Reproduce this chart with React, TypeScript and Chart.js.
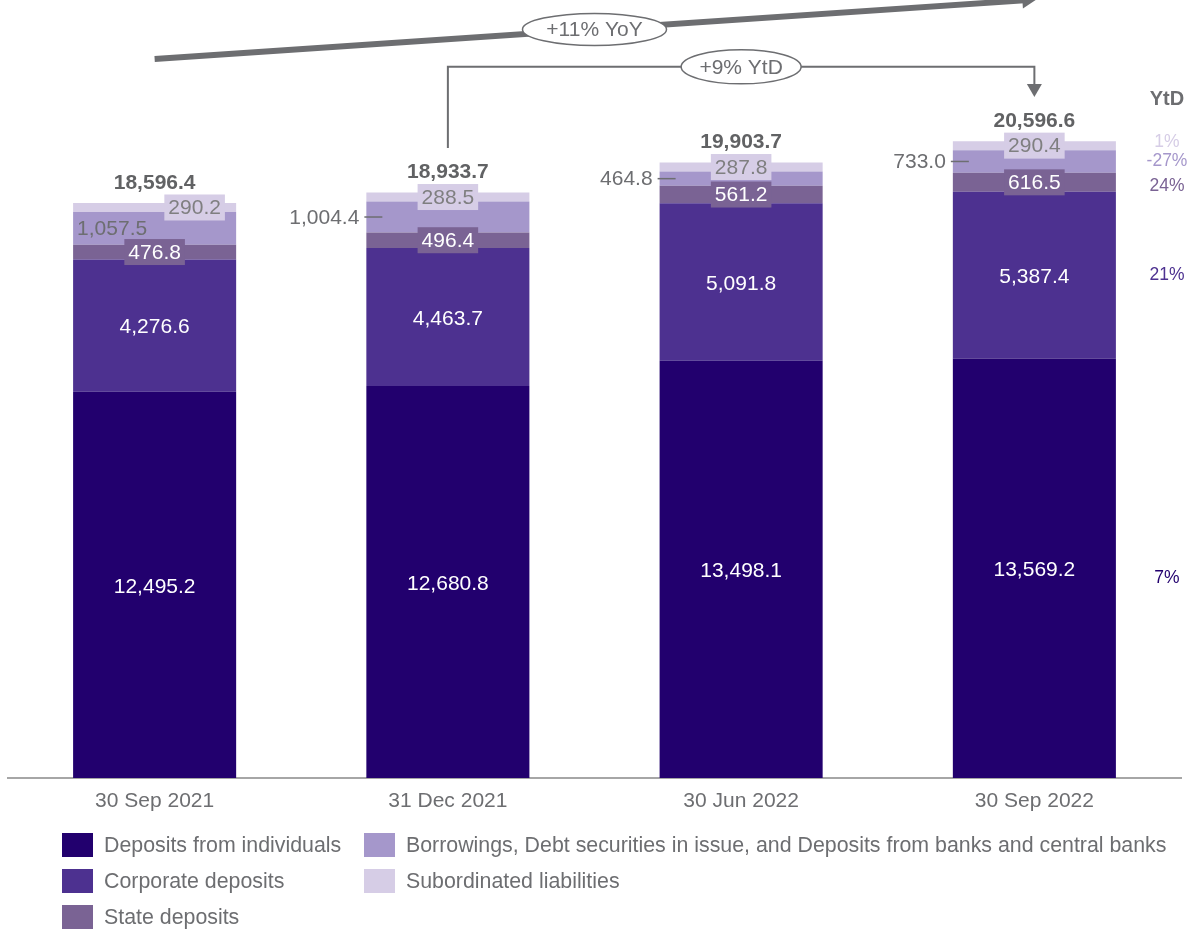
import React, { useEffect, useRef } from 'react';
import { Chart, registerables } from 'chart.js';

Chart.register(...registerables);

const FONT = '"Liberation Sans", Arial, Helvetica, sans-serif';
const GRAY = '#6d6e71';
const DARK_GRAY = '#616264';

// ---- Data ----
const categories = ['30 Sep 2021', '31 Dec 2021', '30 Jun 2022', '30 Sep 2022'];
const individuals = [12495.2, 12680.8, 13498.1, 13569.2];
const corporate = [4276.6, 4463.7, 5091.8, 5387.4];
const stateDeposits = [476.8, 496.4, 561.2, 616.5];
const borrowings = [1057.5, 1004.4, 464.8, 733.0];
const subordinated = [290.2, 288.5, 287.8, 290.4];
const totals = [18596.4, 18933.7, 19903.7, 20596.6];
const seriesNames = [
  'Deposits from individuals',
  'Corporate deposits',
  'State deposits',
  'Borrowings, Debt securities in issue, and Deposits from banks and central banks',
  'Subordinated liabilities',
];
const ytdChanges = ['7%', '21%', '24%', '-27%', '1%'];
const yoyLabel = '+11% YoY';
const ytdLabel = '+9% YtD';

const COLORS = ['#22006e', '#4d3190', '#7a6394', '#a597cb', '#d6cde6'];

const fmt = (v: number) =>
  v.toLocaleString('en-US', { minimumFractionDigits: 1, maximumFractionDigits: 1 });

function drawBoxLabel(ctx: CanvasRenderingContext2D, text: string, cx: number, cy: number, bg: string, fg: string) {
  const w = ctx.measureText(text).width;
  ctx.fillStyle = bg;
  ctx.fillRect(cx - w / 2 - 4, cy - 13, w + 8, 26);
  ctx.fillStyle = fg;
  ctx.textAlign = 'center';
  ctx.fillText(text, cx, cy + 1);
}

const labelPlugin = {
  id: 'segLabels',
  afterDatasetsDraw(chart: any) {
    const ctx: CanvasRenderingContext2D = chart.ctx;
    ctx.save();
    ctx.textBaseline = 'middle';
    ctx.font = `21px ${FONT}`;
    chart.data.datasets.forEach((ds: any, di: number) => {
      const meta = chart.getDatasetMeta(di);
      meta.data.forEach((el: any, i: number) => {
        const p = el.getProps(['x', 'y', 'base', 'width'], true);
        const mid = (p.y + p.base) / 2;
        const left = p.x - p.width / 2;
        const txt = fmt(ds.data[i]);
        if (di === 0 || di === 1) {
          ctx.fillStyle = '#ffffff';
          ctx.textAlign = 'center';
          ctx.fillText(txt, p.x, mid + 2);
        } else if (di === 2) {
          drawBoxLabel(ctx, txt, p.x, mid, COLORS[2], '#ffffff');
        } else if (di === 3) {
          if (i === 0) {
            ctx.fillStyle = GRAY;
            ctx.textAlign = 'left';
            ctx.fillText(txt, left + 4, mid + 1);
          } else {
            ctx.fillStyle = GRAY;
            ctx.textAlign = 'right';
            ctx.fillText(txt, left - 7, mid + 1);
            ctx.strokeStyle = GRAY;
            ctx.lineWidth = 1.5;
            ctx.beginPath();
            ctx.moveTo(left - 2, mid);
            ctx.lineTo(left + 16, mid);
            ctx.stroke();
          }
        } else if (di === 4) {
          const cx = i === 0 ? p.x + 40 : p.x;
          drawBoxLabel(ctx, txt, cx, mid, COLORS[4], '#7f7f80');
        }
      });
    });
    // totals
    const topMeta = chart.getDatasetMeta(chart.data.datasets.length - 1);
    ctx.font = `bold 21px ${FONT}`;
    ctx.fillStyle = DARK_GRAY;
    ctx.textAlign = 'center';
    topMeta.data.forEach((el: any, i: number) => {
      const p = el.getProps(['x', 'y'], true);
      ctx.fillText(fmt(totals[i]), p.x, p.y - 20);
    });
    ctx.restore();
  },
};

function ellipseLabel(ctx: CanvasRenderingContext2D, cx: number, cy: number, rx: number, ry: number, text: string) {
  ctx.beginPath();
  ctx.ellipse(cx, cy, rx, ry, 0, 0, Math.PI * 2);
  ctx.fillStyle = '#ffffff';
  ctx.fill();
  ctx.lineWidth = 1.5;
  ctx.strokeStyle = GRAY;
  ctx.stroke();
  ctx.fillStyle = GRAY;
  ctx.font = `21px ${FONT}`;
  ctx.textAlign = 'center';
  ctx.textBaseline = 'middle';
  ctx.fillText(text, cx, cy + 1);
}

const annotationPlugin = {
  id: 'arrows',
  afterDraw(chart: any) {
    const ctx: CanvasRenderingContext2D = chart.ctx;
    const ys = chart.scales.y;
    const meta = chart.getDatasetMeta(0);
    const xs = meta.data.map((el: any) => el.getProps(['x'], true).x);
    ctx.save();

    // YoY arrow
    const x0 = xs[0], y0 = ys.getPixelForValue(23250);
    const x1 = xs[3] - 10, y1 = ys.getPixelForValue(25150);
    ctx.strokeStyle = GRAY;
    ctx.fillStyle = GRAY;
    ctx.lineWidth = 6;
    ctx.beginPath();
    ctx.moveTo(x0, y0);
    ctx.lineTo(x1, y1);
    ctx.stroke();
    const ang = Math.atan2(y1 - y0, x1 - x0);
    const tipX = x1 + 12 * Math.cos(ang), tipY = y1 + 12 * Math.sin(ang);
    ctx.beginPath();
    ctx.moveTo(tipX, tipY);
    ctx.lineTo(x1 - 2 * Math.cos(ang) + 8 * Math.sin(ang), y1 - 2 * Math.sin(ang) - 8 * Math.cos(ang));
    ctx.lineTo(x1 - 2 * Math.cos(ang) - 8 * Math.sin(ang), y1 - 2 * Math.sin(ang) + 8 * Math.cos(ang));
    ctx.closePath();
    ctx.fill();
    const ecx = (xs[1] + xs[2]) / 2;
    const ecy = y0 + (y1 - y0) * ((ecx - x0) / (x1 - x0));
    ellipseLabel(ctx, ecx, ecy, 72, 16, yoyLabel);

    // YtD bracket
    const bx0 = xs[1], bx1 = xs[3];
    const byBottom = ys.getPixelForValue(20375);
    const byTop = ys.getPixelForValue(23000);
    const tip = ys.getPixelForValue(22025);
    ctx.strokeStyle = GRAY;
    ctx.lineWidth = 2;
    ctx.beginPath();
    ctx.moveTo(bx0, byBottom);
    ctx.lineTo(bx0, byTop);
    ctx.lineTo(bx1, byTop);
    ctx.lineTo(bx1, tip - 10);
    ctx.stroke();
    ctx.fillStyle = GRAY;
    ctx.beginPath();
    ctx.moveTo(bx1, tip);
    ctx.lineTo(bx1 - 7.5, tip - 13);
    ctx.lineTo(bx1 + 7.5, tip - 13);
    ctx.closePath();
    ctx.fill();
    ellipseLabel(ctx, xs[2], byTop, 60, 17, ytdLabel);

    // YtD column
    const colX = chart.chartArea.right - 14;
    const last = xs.length - 1;
    ctx.textAlign = 'center';
    ctx.textBaseline = 'middle';
    ctx.font = `bold 20px ${FONT}`;
    ctx.fillStyle = GRAY;
    const subMeta = chart.getDatasetMeta(4).data[last].getProps(['y', 'base'], true);
    ctx.fillText('YtD', colX, (subMeta.y + subMeta.base) / 2 - 46);
    const nudges = [10, 0, 4, 0, -3];
    ctx.font = `17.5px ${FONT}`;
    chart.data.datasets.forEach((ds: any, di: number) => {
      const p = chart.getDatasetMeta(di).data[last].getProps(['y', 'base'], true);
      ctx.fillStyle = COLORS[di];
      ctx.fillText(ytdChanges[di], colX, (p.y + p.base) / 2 + nudges[di]);
    });
    ctx.restore();
  },
};

export default function App() {
  const ref = useRef<HTMLCanvasElement | null>(null);
  useEffect(() => {
    if (!ref.current) return;
    const seriesData = [individuals, corporate, stateDeposits, borrowings, subordinated];
    const chart = new Chart(ref.current, {
      type: 'bar',
      data: {
        labels: categories,
        datasets: seriesData.map((d, i) => ({
          label: seriesNames[i],
          data: d,
          backgroundColor: COLORS[i],
          borderWidth: 0,
          barPercentage: 0.556,
          categoryPercentage: 1,
        })),
      },
      options: {
        responsive: false,
        animation: false,
        layout: { padding: { top: 5, left: 8, right: 10, bottom: 0 } },
        plugins: { legend: { display: false }, tooltip: { enabled: false } },
        scales: {
          x: {
            stacked: true,
            grid: { display: false, drawTicks: false },
            border: { display: true, color: '#a6a6a6', width: 2 },
            ticks: { color: GRAY, font: { family: FONT, size: 21 }, padding: 11 },
            afterFit: (s: any) => { s.height = 153; },
          },
          y: { stacked: true, display: false, min: 0, max: 25000 },
        },
      },
      plugins: [labelPlugin, annotationPlugin],
    });
    return () => chart.destroy();
  }, []);

  const legendCols = [
    [0, 1, 2],
    [3, 4],
  ];
  const colLeft = [62, 364];
  return (
    <div style={{ position: 'absolute', left: 0, top: 0, width: 1191, height: 931, background: '#fff', overflow: 'hidden' }}>
      <canvas ref={ref} width={1191} height={931} style={{ display: 'block' }} />
      {legendCols.map((col, ci) =>
        col.map((si, ri) => (
          <div
            key={si}
            style={{
              position: 'absolute',
              left: colLeft[ci],
              top: 833 + ri * 36,
              height: 24,
              display: 'flex',
              alignItems: 'center',
              fontFamily: FONT,
              fontSize: 21.35,
              color: GRAY,
              whiteSpace: 'nowrap',
            }}
          >
            <span style={{ display: 'inline-block', width: 31, height: 24, background: COLORS[si], marginRight: 11 }} />
            <span>{seriesNames[si]}</span>
          </div>
        ))
      )}
    </div>
  );
}
